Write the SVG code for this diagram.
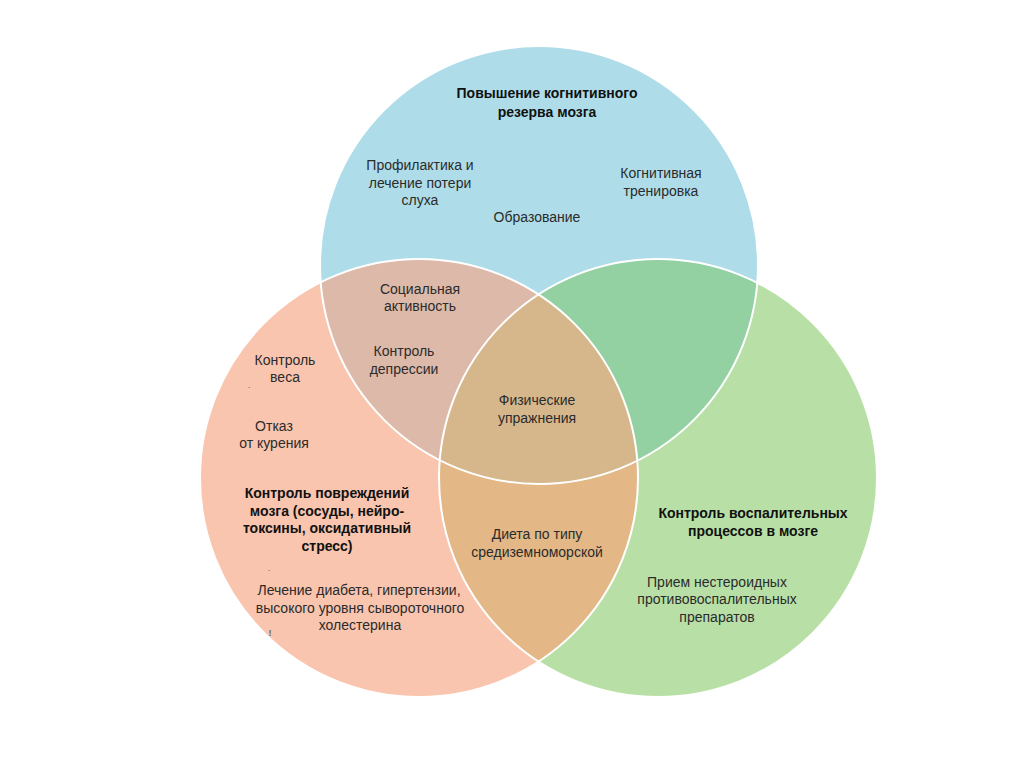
<svg xmlns="http://www.w3.org/2000/svg" width="1024" height="767" viewBox="0 0 1024 767">
<defs>
<clipPath id="cpBlue"><circle cx="539" cy="265" r="219"/></clipPath>
<clipPath id="cpPink"><circle cx="419" cy="478" r="219"/></clipPath>
<clipPath id="cpGreen"><circle cx="658" cy="478" r="219"/></clipPath>
<style>
text{font-family:"Liberation Sans",Arial,sans-serif;font-size:14px;fill:#2b2b2b;text-anchor:middle}
.b{font-weight:bold;fill:#111}
.edge{fill:none;stroke:#ffffff;stroke-width:2}
</style>
</defs>
<rect width="1024" height="767" fill="#ffffff"/>
<g id="circles">
<circle id="c-blue" cx="539" cy="265" r="219" fill="#aedde9"/>
<circle id="c-pink" cx="419" cy="478" r="219" fill="#f9c5ae"/>
<circle id="c-green" cx="658" cy="478" r="219" fill="#b8e0a6"/>
<g clip-path="url(#cpBlue)"><circle cx="419" cy="478" r="219" fill="#ddb9a9"/></g>
<g clip-path="url(#cpBlue)"><circle cx="658" cy="478" r="219" fill="#93d1a3"/></g>
<g clip-path="url(#cpPink)"><circle cx="658" cy="478" r="219" fill="#e3b886"/></g>
<g clip-path="url(#cpPink)"><g clip-path="url(#cpBlue)"><circle cx="658" cy="478" r="219" fill="#d6b78b"/></g></g>
<circle class="edge" cx="539" cy="265" r="219"/>
<circle class="edge" cx="419" cy="478" r="219"/>
<circle class="edge" cx="658" cy="478" r="219"/>
</g>
<g id="node-blue">
<text class="b" x="547" y="98">Повышение когнитивного</text>
<text class="b" x="547" y="117">резерва мозга</text>
<text x="420" y="170">Профилактика и</text>
<text x="420" y="188">лечение потери</text>
<text x="420" y="205">слуха</text>
<text x="661" y="178">Когнитивная</text>
<text x="661" y="196">тренировка</text>
<text x="537" y="222">Образование</text>
</g>
<g id="node-blue-pink">
<text x="420" y="294">Социальная</text>
<text x="420" y="311">активность</text>
<text x="404" y="356">Контроль</text>
<text x="404" y="374">депрессии</text>
</g>
<g id="node-center">
<text x="537" y="405">Физические</text>
<text x="537" y="423">упражнения</text>
</g>
<g id="node-pink-green">
<text x="537" y="539">Диета по типу</text>
<text x="537" y="557">средиземноморской</text>
</g>
<g id="node-pink">
<text x="285" y="365">Контроль</text>
<text x="285" y="382">веса</text>
<text x="249" y="388" style="font-size:8px">.</text>
<text x="274" y="431">Отказ</text>
<text x="274" y="448">от курения</text>
<text class="b" x="327" y="498">Контроль повреждений</text>
<text class="b" x="327" y="516">мозга (сосуды, нейро-</text>
<text class="b" x="327" y="533">токсины, оксидативный</text>
<text class="b" x="327" y="551">стресс)</text>
<text x="269" y="571" style="font-size:8px">.</text>
<text x="359" y="595">Лечение диабета, гипертензии,</text>
<text x="360" y="613">высокого уровня сывороточного</text>
<text x="360" y="630">холестерина</text>
<text x="270" y="636" style="font-size:9px">!</text>
</g>
<g id="node-green">
<text class="b" x="753" y="518">Контроль воспалительных</text>
<text class="b" x="753" y="536">процессов в мозге</text>
<text x="717" y="587">Прием нестероидных</text>
<text x="717" y="604">противовоспалительных</text>
<text x="717" y="622">препаратов</text>
</g>
<g id="connectors"/>
</svg>
